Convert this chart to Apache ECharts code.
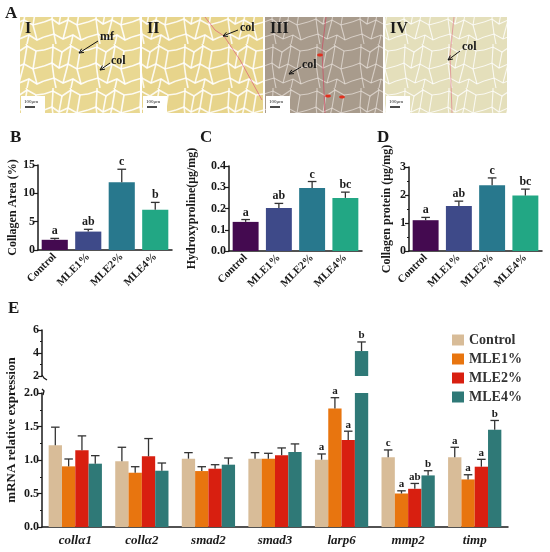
<!DOCTYPE html>
<html>
<head>
<meta charset="utf-8">
<script src="https://cdn.jsdelivr.net/npm/echarts@6/dist/echarts.min.js"></script>
<style>
  html, body { margin: 0; padding: 0; background: #fff; }
  #chart { width: 550px; height: 552px; }
</style>
</head>
<body>
<div id="chart"></div>
<script>
// ---- data ----
var groups = ['Control', 'MLE1%', 'MLE2%', 'MLE4%'];
var groupColors = ['#440a50', '#3e4a89', '#28788d', '#22a784'];

var areaMean = [1.8, 3.25, 11.95, 7.1];
var areaErr = [0.25, 0.4, 2.3, 1.3];
var areaLetters = ['a', 'ab', 'c', 'b'];

var hypMean = [0.137, 0.202, 0.297, 0.25];
var hypErr = [0.011, 0.022, 0.03, 0.027];
var hypLetters = ['a', 'ab', 'c', 'bc'];

var protMean = [1.1, 1.61, 2.35, 1.98];
var protErr = [0.1, 0.17, 0.26, 0.23];
var protLetters = ['a', 'ab', 'c', 'bc'];

var genes = ['collα1', 'collα2', 'smad2', 'smad3', 'larp6', 'mmp2', 'timp'];
var geneColors = ['#d8bc98', '#e8750f', '#d81f10', '#2f7977'];
var ctrlMean = [1.22, 0.98, 1.02, 1.02, 1.005, 1.04, 1.04];
var ctrlErr = [0.27, 0.21, 0.09, 0.09, 0.085, 0.11, 0.15];
var mle1Mean = [0.905, 0.81, 0.835, 1.02, 1.77, 0.50, 0.71];
var mle1Err = [0.11, 0.09, 0.065, 0.08, 0.16, 0.04, 0.07];
var mle2Mean = [1.145, 1.055, 0.87, 1.07, 1.30, 0.57, 0.90];
var mle2Err = [0.215, 0.265, 0.06, 0.11, 0.13, 0.08, 0.11];
var mle4Mean = [0.945, 0.84, 0.93, 1.12, 4.17, 0.77, 1.45];
var mle4Err = [0.12, 0.115, 0.10, 0.12, 0.79, 0.07, 0.14];
var ctrlLetters = ['', '', '', '', 'a', 'c', 'a'];
var mle1Letters = ['', '', '', '', 'a', 'a', 'a'];
var mle2Letters = ['', '', '', '', 'a', 'ab', 'a'];
var mle4Letters = ['', '', '', '', 'b', 'b', 'b'];

var areaTicks = [0, 15, 5];
var hypTicks = [0, 0.4, 0.1];
var protTicks = [0, 3, 1];
var upperTicks = [2, 6, 2];
var lowerTicks = [0, 2, 0.5];

// ---- styling helpers ----
var SERIF = "'Liberation Serif', 'DejaVu Serif', serif";
var INK = '#1a1a1a';

function serifText(size, extra) {
    var s = { fontFamily: SERIF, fontWeight: 'bold', fontSize: size, color: INK };
    for (var k in extra) s[k] = extra[k];
    return s;
}

function catAxis(gridIndex, data, rotate, italic) {
    return {
        type: 'category', gridIndex: gridIndex, data: data,
        axisLine: { lineStyle: { color: INK, width: 1.5 } },
        axisTick: { alignWithLabel: true, length: 3, lineStyle: { color: INK, width: 1.2 } },
        axisLabel: serifText(italic ? 13 : 11, {
            rotate: rotate, margin: rotate ? 5 : 7, interval: 0,
            fontStyle: italic ? 'italic' : 'normal'
        })
    };
}

function valAxis(gridIndex, ticks, name, nameGap, digits, minor) {
    return {
        type: 'value', gridIndex: gridIndex,
        min: ticks[0], max: ticks[1], interval: ticks[2],
        name: name, nameLocation: 'middle', nameGap: nameGap,
        nameTextStyle: serifText(12),
        splitLine: { show: false },
        axisLine: { show: true, lineStyle: { color: INK, width: 1.5 } },
        axisTick: { show: true, length: 4, lineStyle: { color: INK, width: 1.2 } },
        minorTick: { show: !!minor, splitNumber: 2, length: 2, lineStyle: { color: INK } },
        axisLabel: serifText(12, {
            margin: 3,
            formatter: function (v) { return v.toFixed(digits); }
        })
    };
}

// error bar + significance letter for the single-colour panels
function simpleErr(gridIndex, means, errs, letters) {
    return {
        type: 'custom', xAxisIndex: gridIndex, yAxisIndex: gridIndex, z: 5, silent: true,
        data: means.map(function (m, i) { return [i, m, errs[i]]; }),
        renderItem: function (params, api) {
            var base = api.coord([api.value(0), api.value(1)]);
            var top = api.coord([api.value(0), api.value(1) + api.value(2)]);
            var half = api.size([1, 0])[0] * 0.13;
            return {
                type: 'group',
                children: [
                    { type: 'line', shape: { x1: base[0], y1: base[1], x2: top[0], y2: top[1] },
                      style: { stroke: '#333', lineWidth: 1.3 } },
                    { type: 'line', shape: { x1: top[0] - half, y1: top[1], x2: top[0] + half, y2: top[1] },
                      style: { stroke: '#333', lineWidth: 1.3 } },
                    { type: 'text', style: { text: letters[params.dataIndex], x: top[0], y: top[1] - 1,
                      align: 'center', verticalAlign: 'bottom', fill: INK,
                      font: 'bold 12px ' + SERIF } }
                ]
            };
        }
    };
}

// error bars for the grouped gene panel; lo/hi are the segment's value range
function geneErr(gridIndex, k, means, errs, letters, lo, hi) {
    return {
        type: 'custom', xAxisIndex: gridIndex, yAxisIndex: gridIndex, z: 5, silent: true,
        data: means.map(function (m, i) { return [i, m, errs[i]]; }),
        renderItem: function (params, api) {
            var m = api.value(1), e = api.value(2);
            if (m + e > hi || m + e < lo) return;
            var cw = api.size([1, 0])[0];
            var bw = cw * 0.8 / 4;
            var cx = api.coord([api.value(0), lo])[0] - cw * 0.4 + (k + 0.5) * bw;
            var y0 = api.coord([0, Math.max(m, lo)])[1];
            var y1 = api.coord([0, m + e])[1];
            var half = bw * 0.32;
            var kids = [
                { type: 'line', shape: { x1: cx, y1: y0, x2: cx, y2: y1 },
                  style: { stroke: '#333', lineWidth: 1.3 } },
                { type: 'line', shape: { x1: cx - half, y1: y1, x2: cx + half, y2: y1 },
                  style: { stroke: '#333', lineWidth: 1.3 } }
            ];
            var t = letters[params.dataIndex];
            if (t) {
                kids.push({ type: 'text', style: { text: t, x: cx, y: y1 - 1, align: 'center',
                    verticalAlign: 'bottom', fill: INK, font: 'bold 11px ' + SERIF } });
            }
            return { type: 'group', children: kids };
        }
    };
}

// ---- panel A: stained sections drawn as textured boxes ----
function cellPattern(base, line, dense) {
    var c = document.createElement('canvas');
    c.width = 44; c.height = 44;
    var g = c.getContext('2d');
    g.fillStyle = base;
    g.fillRect(0, 0, 44, 44);
    g.strokeStyle = line;
    g.lineWidth = dense ? 1.6 : 1.1;
    var paths = [
        [[0, 6], [9, 3], [18, 8], [27, 2], [36, 7], [44, 6]],
        [[0, 22], [8, 19], [15, 24], [24, 20], [33, 25], [44, 22]],
        [[0, 37], [10, 34], [19, 39], [29, 35], [37, 40], [44, 37]],
        [[9, 3], [8, 19]], [[18, 8], [15, 24]], [[27, 2], [24, 20]], [[36, 7], [33, 25]],
        [[8, 19], [10, 34]], [[24, 20], [19, 39]], [[33, 25], [37, 40]],
        [[10, 34], [12, 44]], [[29, 35], [27, 44]], [[9, 3], [9, 0]], [[27, 2], [26, 0]]
    ];
    paths.forEach(function (p) {
        g.beginPath();
        g.moveTo(p[0][0], p[0][1]);
        for (var i = 1; i < p.length; i++) g.lineTo(p[i][0], p[i][1]);
        g.stroke();
    });
    return { image: c, repeat: 'repeat' };
}

function arrow(x1, y1, x2, y2) {
    var a = Math.atan2(y2 - y1, x2 - x1), h = 5;
    return [
        { type: 'line', shape: { x1: x1, y1: y1, x2: x2, y2: y2 }, style: { stroke: '#111', lineWidth: 1 } },
        { type: 'polyline', shape: { points: [
            [x2 - h * Math.cos(a - 0.45), y2 - h * Math.sin(a - 0.45)], [x2, y2],
            [x2 - h * Math.cos(a + 0.45), y2 - h * Math.sin(a + 0.45)]] },
          style: { stroke: '#111', lineWidth: 1, fill: null } }
    ];
}

function label(text, x, y, size, extra) {
    var s = { text: text, x: x, y: y, fill: INK, font: 'bold ' + size + 'px ' + SERIF };
    for (var k in extra) s[k] = extra[k];
    return { type: 'text', style: s };
}

var sections = [
    { x: 20, w: 120, base: '#e9d892', line: 'rgba(255,255,255,0.9)', dense: true, name: 'I' },
    { x: 142, w: 121, base: '#e7d48b', line: 'rgba(255,255,255,0.85)', dense: true, name: 'II' },
    { x: 265, w: 118, base: '#a89b8c', line: 'rgba(235,228,222,0.7)', dense: false, name: 'III' },
    { x: 385, w: 122, base: '#e4dfbb', line: 'rgba(255,255,255,0.8)', dense: false, name: 'IV' }
];

var graphics = [label('A', 5, 5, 17)];
sections.forEach(function (s) {
    graphics.push({ type: 'rect', shape: { x: s.x, y: 17, width: s.w, height: 96 },
        style: { fill: cellPattern(s.base, s.line, s.dense) } });
    graphics.push(label(s.name, s.x + 5, 21, 16));
    graphics.push({ type: 'rect', shape: { x: s.x + 1, y: 96, width: 24, height: 17 }, style: { fill: '#fff' } });
    graphics.push(label('100μm', s.x + 4, 99, 5, { font: '5px ' + SERIF }));
    graphics.push({ type: 'line', shape: { x1: s.x + 5, y1: 107, x2: s.x + 15, y2: 107 },
        style: { stroke: '#111', lineWidth: 1.5 } });
});
// pink collagen strands and red spots
graphics.push({ type: 'polyline', shape: { points: [[205, 17], [215, 30], [224, 36], [240, 60], [262, 100]] },
    style: { stroke: 'rgba(220,70,120,0.6)', lineWidth: 1, fill: null } });
graphics.push({ type: 'polyline', shape: { points: [[326, 17], [322, 50], [325, 113]] },
    style: { stroke: 'rgba(210,60,90,0.6)', lineWidth: 1, fill: null } });
graphics.push({ type: 'polyline', shape: { points: [[454, 17], [450, 55], [452, 113]] },
    style: { stroke: 'rgba(220,90,120,0.5)', lineWidth: 1, fill: null } });
[[320, 55], [328, 96], [342, 97]].forEach(function (p) {
    graphics.push({ type: 'ellipse', shape: { cx: p[0], cy: p[1], rx: 3, ry: 1.5 }, style: { fill: '#e0301e' } });
});
graphics.push(label('mf', 100, 31, 12));
graphics = graphics.concat(arrow(98, 41, 79, 53));
graphics.push(label('col', 111, 55, 12));
graphics = graphics.concat(arrow(110, 63, 100, 70));
graphics.push(label('col', 240, 22, 12));
graphics = graphics.concat(arrow(238, 30, 223, 36));
graphics.push(label('col', 302, 59, 12));
graphics = graphics.concat(arrow(301, 67, 289, 74));
graphics.push(label('col', 462, 41, 12));
graphics = graphics.concat(arrow(460, 51, 448, 60));

// panel letters and the shared y title of E
graphics.push(label('B', 10, 129, 17));
graphics.push(label('C', 200, 129, 17));
graphics.push(label('D', 377, 129, 17));
graphics.push(label('E', 8, 300, 17));
graphics.push({ type: 'text', rotation: Math.PI / 2, x: 12, y: 430,
    style: { text: 'mRNA relative expression', x: 0, y: 0, align: 'center', verticalAlign: 'middle',
        fill: INK, font: 'bold 13px ' + SERIF } });
// axis break marks
graphics.push({ type: 'polyline', shape: { points: [[42, 375], [44, 378], [47, 380]] },
    style: { stroke: INK, lineWidth: 1.3, fill: null } });
graphics.push({ type: 'polyline', shape: { points: [[42, 389], [44, 391], [43, 395]] },
    style: { stroke: INK, lineWidth: 1.3, fill: null } });

// ---- series ----
function colouredBars(gridIndex, name, means) {
    return {
        type: 'bar', name: name, xAxisIndex: gridIndex, yAxisIndex: gridIndex,
        data: means, barCategoryGap: '22%',
        itemStyle: { color: function (p) { return groupColors[p.dataIndex]; } }
    };
}

var geneMeans = [ctrlMean, mle1Mean, mle2Mean, mle4Mean];
var geneErrs = [ctrlErr, mle1Err, mle2Err, mle4Err];
var geneLetters = [ctrlLetters, mle1Letters, mle2Letters, mle4Letters];

var series = [
    colouredBars(0, 'Collagen Area', areaMean),
    colouredBars(1, 'Hydroxyproline', hypMean),
    colouredBars(2, 'Collagen protein', protMean),
    simpleErr(0, areaMean, areaErr, areaLetters),
    simpleErr(1, hypMean, hypErr, hypLetters),
    simpleErr(2, protMean, protErr, protLetters)
];
[3, 4].forEach(function (gi) {
    var seg = gi === 3 ? upperTicks : lowerTicks;
    for (var k = 0; k < 4; k++) {
        series.push({
            type: 'bar', name: groups[k], xAxisIndex: gi, yAxisIndex: gi,
            data: geneMeans[k], barGap: '0%', barCategoryGap: '20%', clip: true,
            itemStyle: { color: geneColors[k] }
        });
        series.push(geneErr(gi, k, geneMeans[k], geneErrs[k], geneLetters[k], seg[0], seg[1]));
    }
});

var chart = echarts.init(document.getElementById('chart'), null, { renderer: 'canvas' });
chart.setOption({
    animation: false,
    backgroundColor: '#fff',
    grid: [
        { left: 38, top: 165, width: 134, height: 85 },
        { left: 229, top: 166, width: 133, height: 85 },
        { left: 409, top: 167, width: 133, height: 84 },
        { left: 42, top: 330, width: 466, height: 46 },
        { left: 42, top: 393, width: 466, height: 134 }
    ],
    xAxis: [
        catAxis(0, groups, 45, false),
        catAxis(1, groups, 45, false),
        catAxis(2, groups, 45, false),
        { type: 'category', gridIndex: 3, data: genes, show: false },
        catAxis(4, genes, 0, true)
    ],
    yAxis: [
        valAxis(0, areaTicks, 'Collagen Area (%)', 18, 0, false),
        valAxis(1, hypTicks, 'Hydroxyproline(μg/mg)', 31, 1, false),
        valAxis(2, protTicks, 'Collagen protein (μg/mg)', 16, 0, true),
        valAxis(3, upperTicks, '', 0, 0, true),
        valAxis(4, lowerTicks, '', 0, 1, true)
    ],
    legend: {
        data: groups, orient: 'vertical', left: 447, top: 328,
        icon: 'rect', itemWidth: 12, itemHeight: 11, itemGap: 5,
        textStyle: serifText(14, { color: '#333' })
    },
    graphic: graphics,
    series: series
});
</script>
</body>
</html>
